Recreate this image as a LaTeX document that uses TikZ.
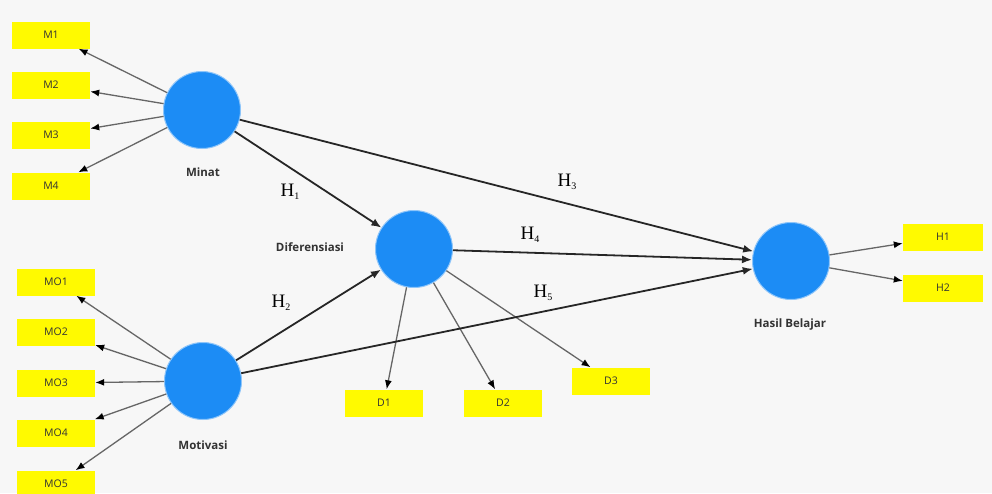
\documentclass[tikz,border=0pt]{standalone}
\usepackage{fontspec}
\setmainfont{Liberation Serif}
\setsansfont{Open Sans}
\usetikzlibrary{arrows.meta}
\definecolor{latentblue}{RGB}{28,140,245}
\definecolor{itemyellow}{RGB}{255,250,0}

\begin{document}
\begin{tikzpicture}[x=1pt, y=-1pt,
    latent/.style={circle, fill=latentblue, draw=latentblue!50, line width=1pt, minimum size=77pt, inner sep=0pt},
    item/.style={fill=itemyellow, minimum width=78pt, minimum height=27pt, inner sep=0pt, font=\sffamily\fontsize{10.5}{12}\selectfont, text=black!80},
    latentlabel/.style={font=\sffamily\bfseries\fontsize{11.5}{13}\selectfont, text=black!80},
    loading/.style={draw=black!60, line width=1.3pt, -{Latex[length=9pt,width=7pt,fill=black,color=black]}},
    hpath/.style={draw=black!85, line width=1.8pt, -{Latex[length=10pt,width=8pt]}},
    hyp/.style={font=\fontsize{19}{22}\selectfont}]
    % Background and page size
    \fill[black!3] (0,0) rectangle (992,493);
    \useasboundingbox (0,0) rectangle (992,493);
    % Latent variables
    \node[latent] (minat) at (202,110) {};
    \node[latent] (motivasi) at (203,381) {};
    \node[latent] (dif) at (414,249) {};
    \node[latent] (hasil) at (791,261) {};
    \node[latentlabel] (minatlabel) at (203,172) {Minat};
    \node[latentlabel] (motivasilabel) at (203,445) {Motivasi};
    \node[latentlabel] (diflabel) at (310,247) {Diferensiasi};
    \node[latentlabel] (hasillabel) at (790,325) {Hasil Belajar};
    % Indicators of Minat
    \foreach \n/\y in {1/35, 2/85, 3/135, 4/186} {
        \node[item] (m\n) at (51,\y) {M\n};
        \draw[loading] (minat) -- (m\n);
    }
    % Indicators of Motivasi
    \foreach \n/\y in {1/282, 2/332, 3/383, 4/433, 5/484} {
        \node[item] (mo\n) at (56,\y) {MO\n};
        \draw[loading] (motivasi) -- (mo\n);
    }
    % Indicators of Diferensiasi
    \foreach \n/\x/\y in {1/384/403, 2/503/403, 3/611/381} {
        \node[item] (d\n) at (\x,\y) {D\n};
        \draw[loading] (dif) -- (d\n);
    }
    % Indicators of Hasil Belajar
    \foreach \n/\y in {1/237, 2/288} {
        \node[item, minimum width=80pt] (h\n) at (943,\y) {H\n};
        \draw[loading] (hasil) -- (h\n);
    }
    % Hypothesised paths
    \draw[hpath] (minat) -- (dif);
    \draw[hpath] (motivasi) -- (dif);
    \draw[hpath] (minat) -- (hasil);
    \draw[hpath] (dif) -- (hasil);
    \draw[hpath] (motivasi) -- (hasil);
    \foreach \k/\x/\y in {1/290/192, 2/281/303, 3/567/182, 4/530/235, 5/543/293} {
        \node[hyp] (hyp\k) at (\x,\y) {H\raisebox{-3pt}{\fontsize{10}{10}\selectfont\k}};
    }
\end{tikzpicture}
\end{document}
